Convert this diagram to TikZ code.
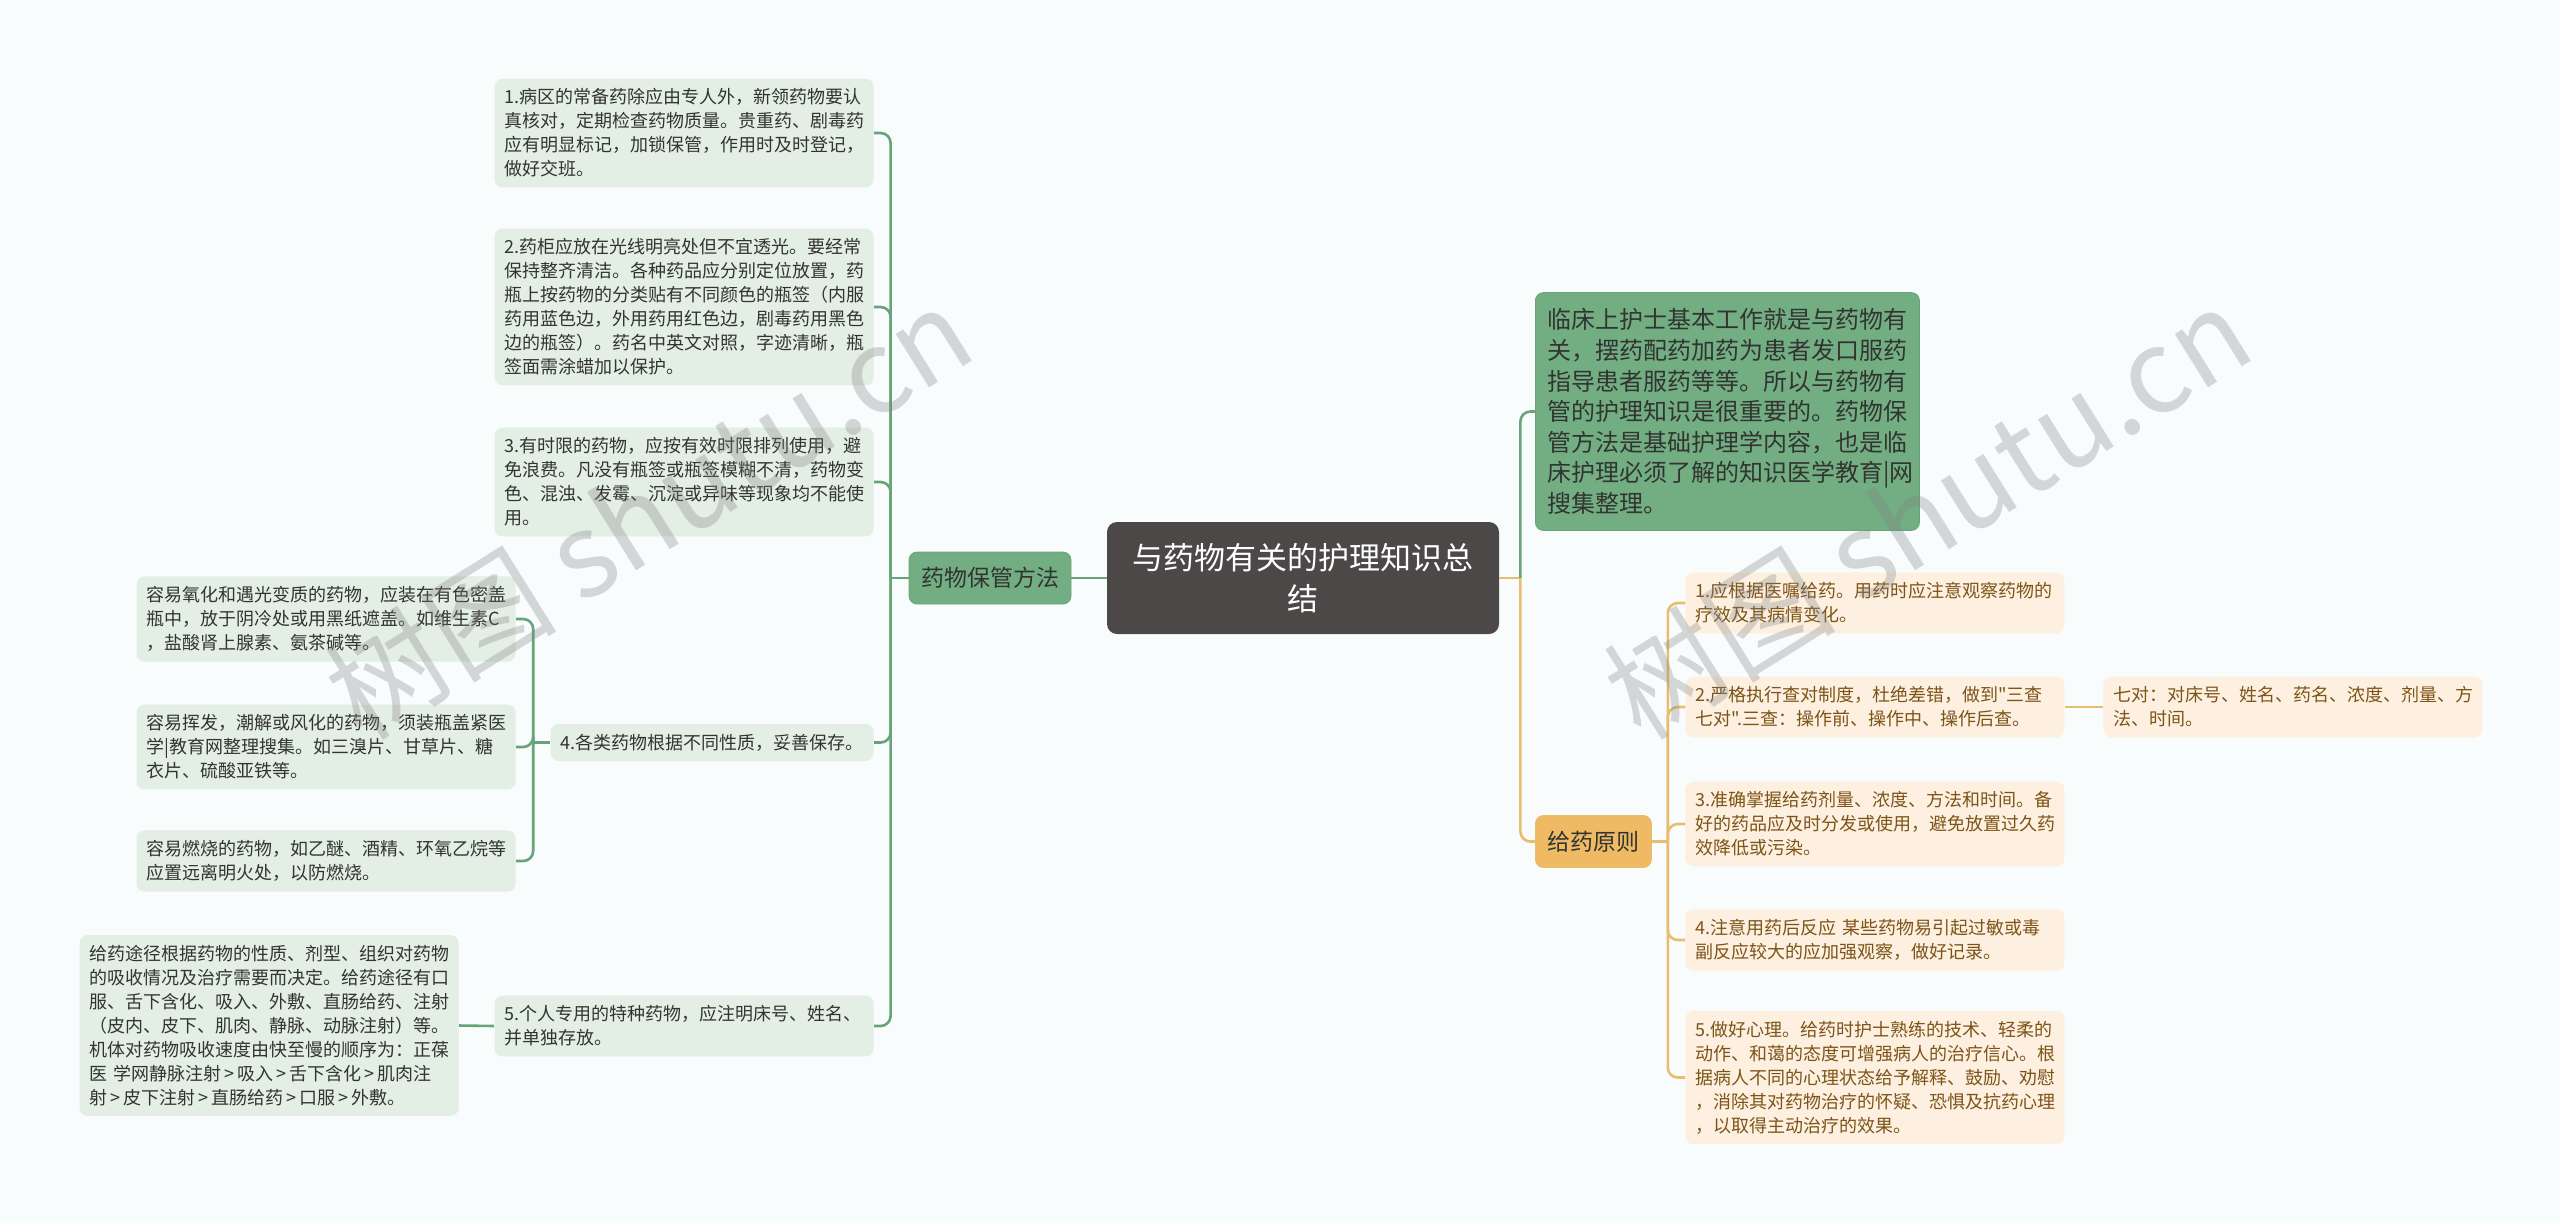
\documentclass[tikz,border=0pt]{standalone}
\usepackage{fontspec}
\setmainfont{Noto Sans CJK SC}[Ligatures=TeXOff]
\definecolor{paperbg}{RGB}{248,252,252}
\definecolor{rootgray}{RGB}{76,72,72}
\definecolor{keepgreen}{RGB}{114,174,130}
\definecolor{keepline}{RGB}{104,164,122}
\definecolor{leafgreen}{RGB}{227,238,229}
\definecolor{ruleorange}{RGB}{240,186,101}
\definecolor{ruleline}{RGB}{233,189,110}
\definecolor{leaforange}{RGB}{253,240,224}
\definecolor{ruletext}{RGB}{125,84,24}
\definecolor{darktext}{RGB}{50,52,50}
\usetikzlibrary{positioning}

\begin{document}
\begin{tikzpicture}[x=0.5pt, y=-0.5pt,
    leafbox/.style={fill=leafgreen, rounded corners=4pt, text=darktext, inner xsep=5pt, inner ysep=5pt,
      font=\fontsize{9pt}{12pt}\selectfont},
    leafL/.style={leafbox, text width=179.5pt, align=left},
    leafR/.style={leafL, fill=leaforange, text=ruletext},
    topicbox/.style={fill=keepgreen, draw=keepline, rounded corners=4pt, text=darktext, inner xsep=6pt,
      minimum height=26pt, font=\fontsize{11.5pt}{14pt}\selectfont},
    keepwire/.style={draw=keepline, line width=1.3pt, rounded corners=5pt},
    rulewire/.style={draw=ruleline, line width=1.3pt, rounded corners=5pt},
    watermark/.style={text=gray, opacity=0.3, font=\fontsize{58pt}{62pt}\selectfont, rotate=32}]
    \useasboundingbox (0,0) rectangle (2560,1223);
    \fill[paperbg] (0,0) rectangle (2560,1223);

    % centre
    \node[fill=rootgray, text=white, rounded corners=5pt, minimum width=196pt, minimum height=56pt,
      text width=180pt, align=center, font=\fontsize{15.5pt}{20.5pt}\selectfont] (root) at (1303,578)
      {与药物有关的护理知识总\\结};

    % left branch
    \node[topicbox] (keep) at (990,578) {药物保管方法};
    \node[leafL, anchor=east] (keep1) at (874,133) {1.病区的常备药除应由专人外，新领药物要认\\真核对，定期检查药物质量。贵重药、剧毒药\\应有明显标记，加锁保管，作用时及时登记，\\做好交班。};
    \node[leafL, anchor=east] (keep2) at (874,307) {2.药柜应放在光线明亮处但不宜透光。要经常\\保持整齐清洁。各种药品应分别定位放置，药\\瓶上按药物的分类贴有不同颜色的瓶签（内服\\药用蓝色边，外用药用红色边，剧毒药用黑色\\边的瓶签）。药名中英文对照，字迹清晰，瓶\\签面需涂蜡加以保护。};
    \node[leafL, anchor=east] (keep3) at (874,482) {3.有时限的药物，应按有效时限排列使用，避\\免浪费。凡没有瓶签或瓶签模糊不清，药物变\\色、混浊、发霉、沉淀或异味等现象均不能使\\用。};
    \node[leafbox, anchor=east] (keep4) at (874,742.5) {4.各类药物根据不同性质，妥善保存。};
    \node[leafL, anchor=east] (keep5) at (874,1026) {5.个人专用的特种药物，应注明床号、姓名、\\并单独存放。};
    \node[leafL, anchor=east] (kind1) at (516,619) {容易氧化和遇光变质的药物，应装在有色密盖\\瓶中，放于阴冷处或用黑纸遮盖。如维生素C\\，盐酸肾上腺素、氨茶碱等。};
    \node[leafL, anchor=east] (kind2) at (516,747) {容易挥发，潮解或风化的药物，须装瓶盖紧医\\学|教育网整理搜集。如三溴片、甘草片、糖\\衣片、硫酸亚铁等。};
    \node[leafL, anchor=east] (kind3) at (516,861) {容易燃烧的药物，如乙醚、酒精、环氧乙烷等\\应置远离明火处，以防燃烧。};
    \node[leafL, anchor=east] (route) at (459,1025.5) {给药途径根据药物的性质、剂型、组织对药物\\的吸收情况及治疗需要而决定。给药途径有口\\服、舌下含化、吸入、外敷、直肠给药、注射\\（皮内、皮下、肌肉、静脉、动脉注射）等。\\机体对药物吸收速度由快至慢的顺序为：正葆\\\mbox{医 学网静脉注射\,>\,吸入\,>\,舌下含化\,>\,肌肉注}\\\mbox{射\,>\,皮下注射\,>\,直肠给药\,>\,口服\,>\,外敷。}};

    % right branch
    \node[fill=keepgreen, draw=keepline, rounded corners=4pt, text=darktext, inner xsep=6pt, inner ysep=8pt,
      text width=180pt, align=left, font=\fontsize{12pt}{15.3pt}\selectfont, anchor=west] (intro) at (1535,411.5)
      {临床上护士基本工作就是与药物有\\关，摆药配药加药为患者发口服药\\指导患者服药等等。所以与药物有\\管的护理知识是很重要的。药物保\\管方法是基础护理学内容，也是临\\床护理必须了解的知识医学教育|网\\搜集整理。};
    \node[topicbox, fill=ruleorange, draw=ruleline, anchor=west] (rule) at (1535,841.5) {给药原则};
    \node[leafR, anchor=west] (rule1) at (1685,603) {1.应根据医嘱给药。用药时应注意观察药物的\\疗效及其病情变化。};
    \node[leafR, anchor=west] (rule2) at (1685,707) {2.严格执行查对制度，杜绝差错，做到"三查\\七对".三查：操作前、操作中、操作后查。};
    \node[leafR, anchor=west] (check7) at (2103,707) {七对：对床号、姓名、药名、浓度、剂量、方\\法、时间。};
    \node[leafR, anchor=west] (rule3) at (1685,824) {3.准确掌握给药剂量、浓度、方法和时间。备\\好的药品应及时分发或使用，避免放置过久药\\效降低或污染。};
    \node[leafR, anchor=west] (rule4) at (1685,940) {4.注意用药后反应 某些药物易引起过敏或毒\\副反应较大的应加强观察，做好记录。};
    \node[leafR, anchor=west] (rule5) at (1685,1077.5) {5.做好心理。给药时护士熟练的技术、轻柔的\\动作、和蔼的态度可增强病人的治疗信心。根\\据病人不同的心理状态给予解释、鼓励、劝慰\\，消除其对药物治疗的怀疑、恐惧及抗药心理\\，以取得主动治疗的效果。};

    % connectors
    \draw[keepwire] (root.west) -- (keep.east);
    \draw[keepwire] (keep.west) -- ++(-18,0) coordinate (keepfork);
    \foreach \leaf in {keep1,keep2,keep3,keep4,keep5}
        \draw[keepwire] (keepfork) |- (\leaf.east);
    \draw[keepwire] (keep4.west) -- ++(-17,0) coordinate (kindfork);
    \foreach \leaf in {kind1,kind2,kind3}
        \draw[keepwire] (kindfork) |- (\leaf.east);
    \draw[keepwire] (keep5.west) -- (route.east);

    \draw[rulewire] (root.east) -- ++(21,0) coordinate (rootfork);
    \draw[keepwire] (rootfork) |- (intro.west);
    \draw[rulewire] (rootfork) |- (rule.west);
    \draw[rulewire] (rule.east) -- ++(16,0) coordinate (rulefork);
    \foreach \leaf in {rule1,rule2,rule3,rule4,rule5}
        \draw[rulewire] (rulefork) |- (\leaf.west);
    \draw[rulewire] (rule2.east) -- (check7.west);

    % watermarks
    \node[watermark] (wmleft) at (648,512) {树图 shutu.cn};
    \node[watermark] (wmright) at (1927,512) {树图 shutu.cn};
\end{tikzpicture}
\end{document}
